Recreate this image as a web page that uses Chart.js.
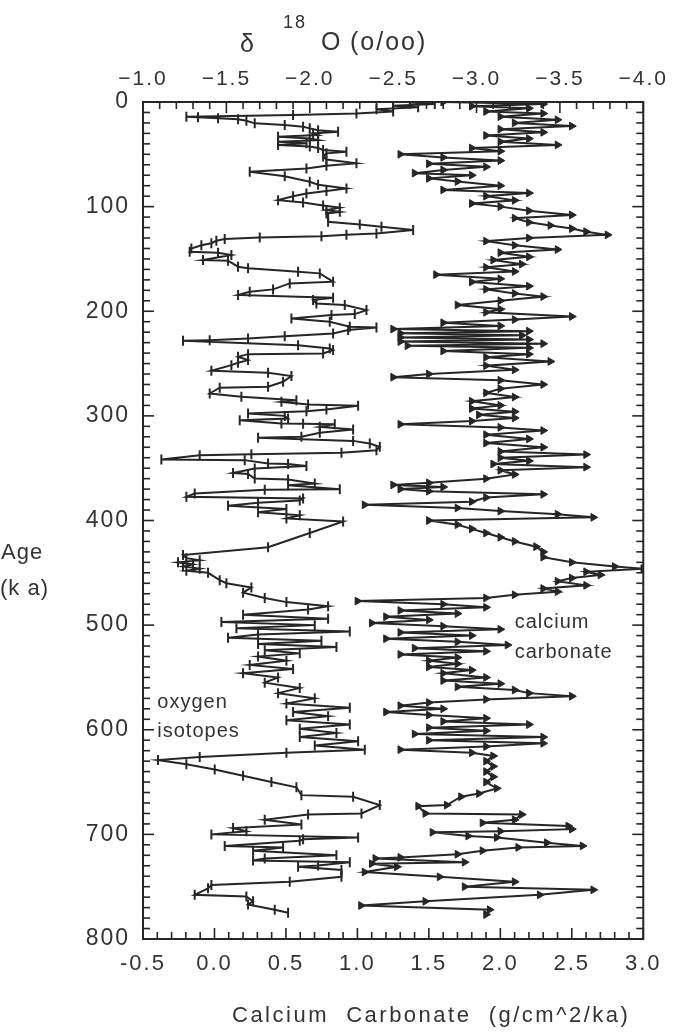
<!DOCTYPE html>
<html>
<head>
<meta charset="utf-8">
<script src="https://cdn.jsdelivr.net/npm/chart.js@4.4.1/dist/chart.umd.min.js"></script>
<style>
  html, body { margin: 0; padding: 0; background: #fff; }
  canvas { display: block; }
</style>
</head>
<body>
<canvas id="chart" width="674" height="1033"></canvas>
<script>
// oxygen isotope record (top axis, per mil)
const isoAge = [0.5,2,3.5,5,7,9,10.9,12.5,14,14.6,15.5,16.5,18,20.4,22,23.6,25.2,27,28.4,30,31.5,33.2,35,36.5,37.9,39.5,41.1,42.5,44,45.9,47.5,49.1,52,55,58.6,61,63.5,66.7,71,76.2,79,82.6,85,87.4,90,93.8,96,99,101,103.3,105,106.5,110,114.5,117,119.2,122.4,125.6,127,128.2,129.4,131,132.6,135,137,140,
  143.1,144.1,146.3,151.1,151.7,157.4,159,162.2,163.8,171.8,173.4,179.1,181.4,184.5,187.1,189.3,192.5,194.1,198.9,202.7,203.7,206.9,210,214.8,215.5,218,221.2,223.8,226,227.6,228.2,232.4,235.5,237.1,240.3,241,243.5,246.7,249.3,251.5,256.9,258.8,262,267.4,272.2,273,278.6,281.8,285,286.6,289.1,290.4,293.9,295.5,297.7,300,302.5,304.1,307.3,307.5,308,310.5,313,316.2,320,321,323.9,326.4,329.6,332.8,335.3,336.6,337.6,341.7,342.3,345.5,346,348,350.3,354.5,355.5,359.9,360.8,364.7,366.3,370.1,370.5,374.2,377.4,379,
  381,383,386,389,392,395,398,401,412,425.6,433,436,438,440,442,444,446,448,450,457,460,464,469,474,478,482,485,490,494,497,500,503,506,509,512,515,518,521,524,527,530,534,538,542,546,550,555,560,565,570,575,579,583,587,591,595,599,603,607,611,615,619,622,626,629,633,638,644,
  650,655,662.5,664,672,680,681,686,690.6,694,697,700,703,704.7,706,711,712.5,715.6,720,723,725,726.6,729.7,731,734,740.6,745.3,748.4,751.6,757.8,759.4,764,767,772,775];
const isoD18O = [-2.6,-2.75,-2.5,-2.65,-2.4,-2.5,-2.28,-1.9,-1.26,-1.33,-1.45,-1.57,-1.62,-1.67,-1.85,-1.96,-2.0,-2.05,-2.17,-2.02,-2.05,-1.81,-2.0,-2.05,-1.81,-1.98,-1.81,-2.0,-2.05,-2.08,-2.22,-2.1,-2.08,-2.1,-2.28,-2.1,-1.98,-1.64,-1.85,-2.0,-2.05,-2.22,-2.1,-1.98,-1.9,-1.81,-1.96,-2.08,-2.18,-2.1,-2.18,-2.1,-2.11,-2.11,-2.3,-2.43,-2.62,-2.4,-2.22,-2.07,-1.7,-1.49,-1.44,-1.41,-1.35,-1.29,
  -1.28,-1.45,-1.53,-1.36,-1.51,-1.57,-1.63,-1.93,-2.06,-2.14,-1.88,-1.78,-1.64,-1.57,-2.14,-2.02,-2.04,-2.21,-2.34,-2.27,-2.13,-1.89,-2.12,-2.24,-2.4,-2.23,-2.14,-1.85,-1.63,-1.4,-1.24,-1.93,-2.12,-2.14,-2.08,-1.63,-1.57,-1.63,-1.57,-1.53,-1.41,-1.75,-1.89,-1.84,-1.75,-1.46,-1.4,-1.59,-1.92,-1.83,-1.99,-2.29,-2.1,-1.98,-1.63,-1.85,-1.87,-1.58,-1.83,-1.96,-2.15,-2.06,-2.26,-2.06,-1.95,-1.69,-2.26,-2.36,-2.42,-2.4,-2.19,-1.65,-1.34,-1.11,-1.61,-1.75,-1.87,-1.98,-1.67,-1.54,-1.63,-1.67,-1.87,-2.03,-1.87,-2.18,-1.73,-1.31,-1.26,-1.96,
  -1.94,-1.69,-1.51,-1.86,-1.69,-1.94,-1.86,-2.2,-2.0,-1.75,-1.24,-1.26,-1.34,-1.21,-1.3,-1.24,-1.34,-1.26,-1.39,-1.46,-1.5,-1.65,-1.6,-1.73,-1.86,-2.11,-1.99,-1.6,-2.11,-1.47,-2.03,-1.56,-2.24,-1.69,-1.51,-2.07,-1.69,-2.16,-1.73,-1.94,-1.69,-1.86,-1.64,-1.9,-1.6,-1.81,-1.73,-1.94,-1.81,-2.03,-1.86,-2.24,-1.9,-2.11,-1.86,-2.24,-1.94,-2.16,-1.94,-2.29,-2.03,-2.33,-1.86,-1.34,-1.09,-1.26,-1.43,-1.6,
  -1.77,-1.92,-1.95,-2.26,-2.42,-2.31,-1.99,-1.73,-1.95,-1.54,-1.62,-1.41,-2.29,-1.96,-1.94,-1.49,-1.84,-1.66,-2.16,-1.73,-1.66,-2.24,-2.05,-1.93,-2.19,-2.19,-1.88,-1.41,-1.39,-1.31,-1.62,-1.66,-1.63,-1.79,-1.87];

// calcium carbonate accumulation (bottom axis, g/cm^2/ka)
const carbAge = [0,2,4,6,9,11,14,17,20,23,26,29,32,35,38,41,44,47,50,53,56,59,62,65,68,70,73,76,80,84,87,90,94,97,100,104,108,111,115,118,121,124,127,130,133,137,141,144,148,151,155,158,162,165,169,172,176,179,183,186,190,194,198,201,205,208,211,214,217,219,221,223,225,227,229,231,233,235,238,241,244,248,252,256,260,263,266,270,274,278,282,286,290,293,296,299,302,305,308,311,314,318,322,326,330,334,337,340,343,346,349,352,356,360,364,366,368,370,372,375,378,382,385,388,391,394,397,400,404,408,412,416,420,425,430,435,440,444,446,449,452,455,458,462,465,468,471,474,477,480,483,486,489,492,495,498,501,504,507,510,513,516,519,522,525,528,531,534,537,540,543,546,550,553,556,559,562,565,568,571,574,577,580,583,586,589,592,595,598,601,604,607,610,613,616,619,622,625,630,635,640,645,
  650,656,661,664,672,673,680,681,686,689,692,695,697,698,701.6,703,708,711,712.5,715.6,719,722,723,726.6,728,731,736,740.6,745.3,750,753,757.8,764,768,772,776.6];
const carbRate = [1.6,2.3,1.8,2.2,1.9,2.3,2.0,2.4,2.1,2.5,2.0,2.3,1.9,2.2,2.0,2.4,1.8,2.0,1.3,1.6,2.0,1.5,1.9,1.6,1.4,1.8,1.5,1.7,2.0,1.6,2.2,1.9,2.1,1.8,2.0,2.2,2.5,2.1,2.2,2.35,2.5,2.6,2.75,2.2,1.9,2.1,2.4,2.0,2.2,1.95,2.15,1.9,2.1,1.55,2.0,1.8,2.2,1.9,2.1,2.3,2.0,1.7,2.0,1.9,2.5,2.1,1.6,2.0,1.25,2.2,1.3,2.15,1.3,2.2,1.3,2.3,1.35,2.2,1.6,2.2,1.9,2.35,1.9,2.1,1.5,1.25,2.0,2.3,2.0,1.9,2.1,1.8,2.0,1.8,2.1,1.85,2.1,1.8,1.3,2.0,2.3,1.9,2.2,1.9,2.3,2.0,2.6,2.0,2.2,1.95,2.6,2.0,2.1,1.9,1.5,1.25,1.6,1.3,1.5,2.3,1.9,1.8,1.05,1.7,2.0,2.4,2.65,1.5,1.7,1.8,1.9,2.0,2.1,2.25,2.3,2.3,2.5,2.8,3.0,2.6,2.7,2.5,2.4,2.6,2.3,2.4,2.1,1.9,1.0,1.6,1.9,1.3,1.7,1.2,1.5,1.1,1.6,2.0,1.3,1.8,1.2,1.7,2.05,1.4,1.9,1.3,1.7,1.5,1.7,1.5,1.8,1.6,1.9,1.6,2.0,1.7,2.1,2.2,2.5,1.9,1.5,1.3,1.6,1.2,1.5,1.9,1.6,2.2,1.5,1.9,1.4,2.3,1.5,2.3,1.9,1.3,1.8,1.95,1.9,1.95,1.9,1.95,
  1.9,1.975,1.85,1.725,1.625,1.425,1.475,2.15,2.1,1.875,2.475,2.5,2.0,1.525,1.775,1.975,2.325,2.575,2.125,1.875,1.7,1.3,1.125,1.75,1.1,1.275,1.05,1.575,2.1,1.75,2.65,2.275,1.475,1.025,1.925,1.9];

const INK = '#262626';
const TEXT = '#333';
const FONT = '"Liberation Sans", Arial, Helvetica, sans-serif';
const SPACING = '2px';

const isoPoints = isoAge.map((a, i) => ({ x: isoD18O[i], y: a }));
const carbPoints = carbAge.map((a, i) => ({ x: carbRate[i], y: a }));

// the original lettering is loosely tracked
const trackingPlugin = {
  id: 'tracking',
  beforeDraw(chart) { chart.ctx.letterSpacing = SPACING; },
  afterDraw(chart) { chart.ctx.letterSpacing = '0px'; }
};

// frame, inward ticks and the hand-set labels
const framePlugin = {
  id: 'frame',
  afterDraw(chart) {
    const { ctx, chartArea: a, scales } = chart;
    const seg = (x1, y1, x2, y2) => { ctx.beginPath(); ctx.moveTo(x1, y1); ctx.lineTo(x2, y2); ctx.stroke(); };
    ctx.save();
    ctx.strokeStyle = INK;
    ctx.lineWidth = 2;
    ctx.strokeRect(a.left, a.top, a.right - a.left, a.bottom - a.top);
    ctx.lineWidth = 1.6;
    for (let v = 0; v <= 800; v += 10) {
      const y = scales.y.getPixelForValue(v);
      const len = v % 100 === 0 ? 11 : 7;
      seg(a.left, y, a.left + len, y);
      seg(a.right, y, a.right - len, y);
    }
    for (let i = -5; i <= 30; i++) {
      const x = scales.x.getPixelForValue(i / 10);
      seg(x, a.bottom, x, a.bottom - (i % 5 === 0 ? 11 : 7));
    }
    for (let i = 10; i <= 40; i++) {
      const x = scales.x2.getPixelForValue(-i / 10);
      seg(x, a.top, x, a.top + (i % 5 === 0 ? 11 : 7));
    }

    ctx.fillStyle = TEXT;
    ctx.textBaseline = 'alphabetic';
    ctx.textAlign = 'left';
    // top title
    ctx.letterSpacing = '2px';
    ctx.font = '25px ' + FONT;
    ctx.fillText('\u03b4', 240, 52);
    ctx.font = '18px ' + FONT;
    ctx.fillText('18', 283, 28);
    ctx.font = '25px ' + FONT;
    ctx.fillText('O', 321, 50);
    ctx.fillText('(o/oo)', 350, 50);
    // bottom title
    ctx.letterSpacing = '2.5px';
    ctx.font = '22px ' + FONT;
    ctx.fillText('Calcium  Carbonate  (g/cm^2/ka)', 232, 1022);
    // y title
    ctx.letterSpacing = '1px';
    ctx.font = '22px ' + FONT;
    ctx.fillText('Age', 1, 559);
    ctx.fillText('(k a)', 0, 595);
    // curve labels
    ctx.letterSpacing = '1px';
    ctx.font = '20px ' + FONT;
    const cx = scales.x.getPixelForValue(2.1);
    ctx.fillText('calcium', cx, scales.y.getPixelForValue(503));
    ctx.fillText('carbonate', cx, scales.y.getPixelForValue(531));
    const ox = scales.x.getPixelForValue(-0.4);
    ctx.fillText('oxygen', ox, scales.y.getPixelForValue(579));
    ctx.fillText('isotopes', ox, scales.y.getPixelForValue(607));
    ctx.restore();
  }
};

new Chart(document.getElementById('chart'), {
  type: 'scatter',
  data: {
    datasets: [
      {
        label: 'oxygen isotopes',
        data: isoPoints,
        xAxisID: 'x2',
        yAxisID: 'y',
        showLine: true,
        borderColor: INK,
        borderWidth: 2,
        pointStyle: 'line',
        rotation: 90,
        pointRadius: 5,
        pointBorderWidth: 2,
        pointBorderColor: INK,
        pointBackgroundColor: INK
      },
      {
        label: 'calcium carbonate',
        data: carbPoints,
        xAxisID: 'x',
        yAxisID: 'y',
        showLine: true,
        borderColor: INK,
        borderWidth: 2,
        pointStyle: 'triangle',
        rotation: 90,
        pointRadius: 4.5,
        pointBorderWidth: 1,
        pointBorderColor: INK,
        pointBackgroundColor: INK
      }
    ]
  },
  options: {
    responsive: false,
    animation: false,
    devicePixelRatio: 1,
    layout: { padding: { left: 0, right: 22, top: 0, bottom: 0 } },
    plugins: { legend: { display: false }, tooltip: { enabled: false } },
    scales: {
      x: {
        type: 'linear', position: 'bottom', min: -0.5, max: 3.0,
        grid: { display: false, drawTicks: false },
        border: { display: false },
        ticks: { stepSize: 0.5, padding: 12, color: TEXT, font: { family: FONT, size: 22 }, maxRotation: 0,
          callback: v => v.toFixed(1) },
        afterFit: s => { s.height = 94; }
      },
      x2: {
        type: 'linear', position: 'top', min: -4.0, max: -1.0, reverse: true,
        grid: { display: false, drawTicks: false },
        border: { display: false },
        ticks: { stepSize: 0.5, padding: 10, color: TEXT, font: { family: FONT, size: 21 }, maxRotation: 0,
          callback: v => v.toFixed(1).replace('-', '\u2212') },
        afterFit: s => { s.height = 102; }
      },
      y: {
        type: 'linear', position: 'left', min: 0, max: 800, reverse: true,
        grid: { display: false, drawTicks: false },
        border: { display: false },
        ticks: { stepSize: 100, padding: 13, color: TEXT, font: { family: FONT, size: 23 } },
        afterFit: s => { s.width = 143; }
      }
    }
  },
  plugins: [trackingPlugin, framePlugin]
});
</script>
</body>
</html>
